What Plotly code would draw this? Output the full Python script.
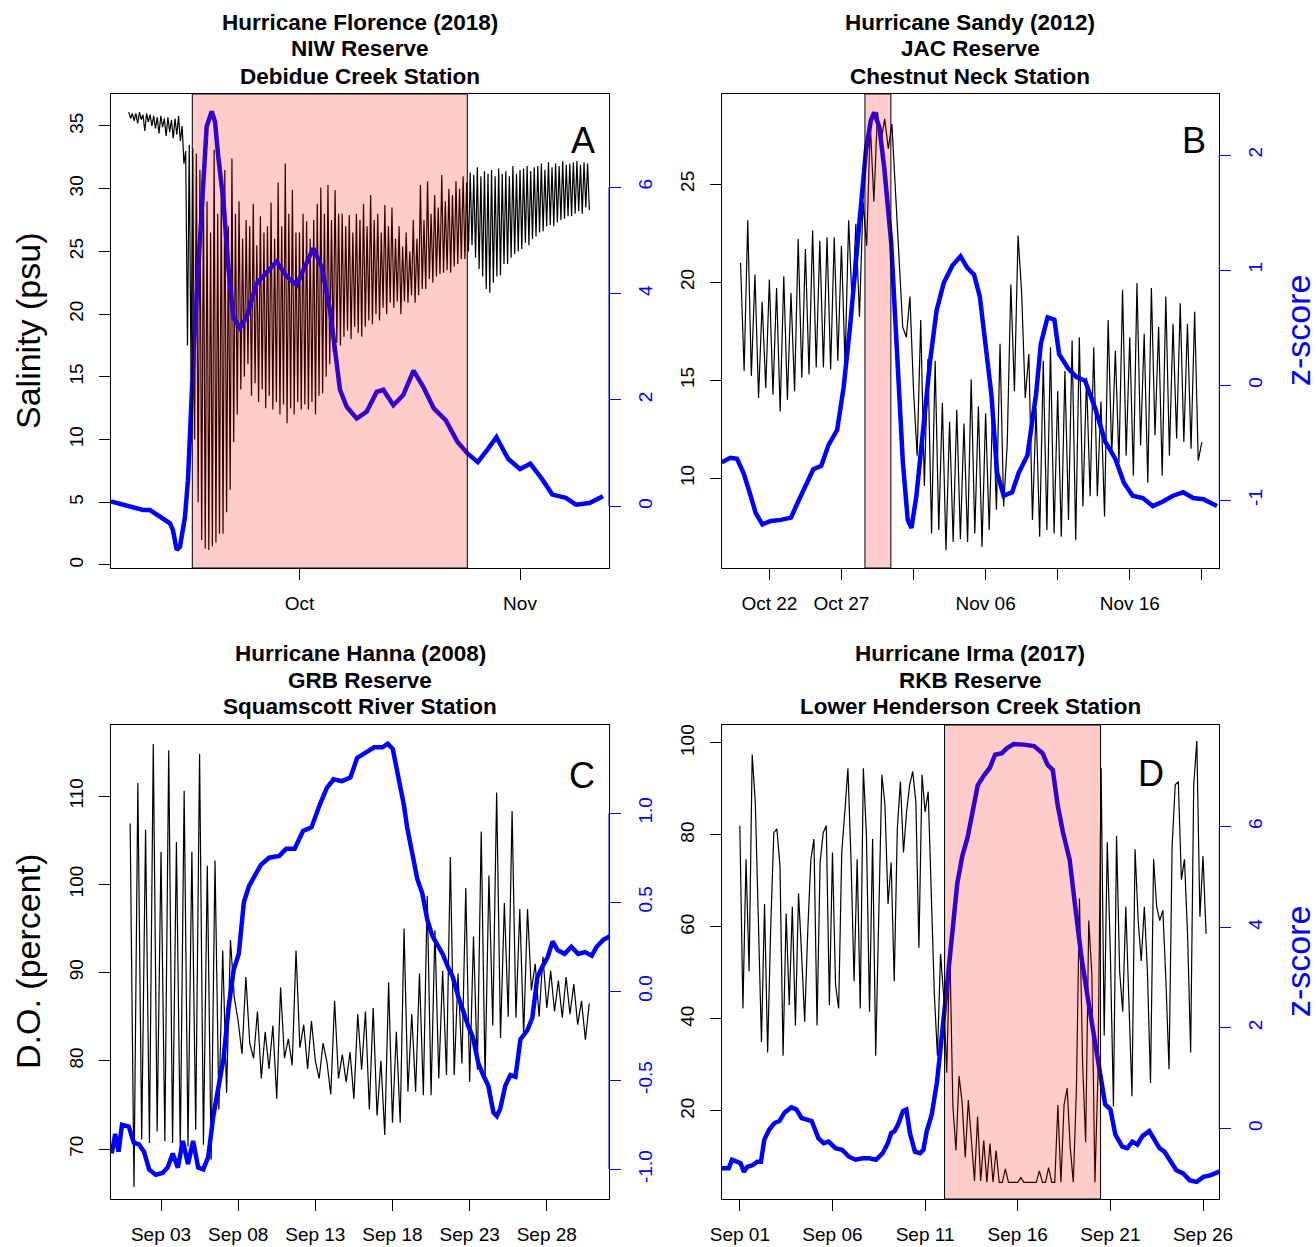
import pandas as pd
import plotly.graph_objects as go

# ============================ DATA ============================
# Day numbers (…_z_day, …_storm_day) count days from the panel's base date.

# --- Panel A: Hurricane Florence (2018), NIW Reserve, Debidue Creek Station ---
a_base = "2018-08-31"
a_sal_start = "2018-09-07 00:00"
a_sal_step = "6h"
a_sal = [
    36.1, 35.6, 36.0, 35.4, 36.0, 35.2, 36.1, 35.5, 35.9, 34.6, 36.0, 35.3,
    35.9, 35.0, 35.8, 34.8, 35.7, 34.4, 35.8, 34.9, 35.6, 34.2, 35.7, 34.5,
    35.5, 34.0, 35.6, 34.3, 35.8, 33.8, 35.0, 32.0, 33.0, 17.5, 33.5, 15.0,
    33.2, 10.0, 32.8, 5.0, 31.5, 2.0, 30.0, 1.3, 29.0, 1.2, 26.5, 1.5,
    33.1, 1.8, 28.0, 2.5, 30.0, 2.5, 31.5, 4.2, 27.0, 6.0, 32.4, 9.8,
    28.0, 12.0, 29.0, 14.0, 26.0, 15.0, 27.5, 16.0, 27.0, 13.5, 28.8, 14.5,
    25.5, 13.0, 27.8, 14.0, 26.5, 12.5, 27.0, 13.5, 28.9, 12.4, 26.0, 13.0,
    30.5, 12.0, 27.0, 12.8, 32.0, 11.3, 28.0, 12.5, 29.9, 12.0, 26.5, 13.0,
    26.5, 12.4, 28.0, 12.8, 27.4, 12.4, 26.0, 13.0, 27.5, 12.0, 28.8, 13.5,
    30.1, 13.7, 28.0, 15.0, 30.3, 16.0, 27.5, 17.0, 29.9, 17.7, 28.0, 17.5,
    28.0, 18.2, 27.0, 18.7, 27.9, 18.0, 26.5, 19.0, 28.0, 18.5, 27.5, 18.2,
    28.8, 19.0, 27.0, 19.5, 29.5, 19.2, 27.5, 20.0, 28.0, 19.5, 26.5, 20.5,
    28.7, 20.0, 27.0, 20.9, 28.5, 20.5, 26.0, 21.0, 27.0, 20.0, 25.4, 21.0,
    26.5, 20.9, 25.0, 21.5, 27.5, 20.9, 26.0, 21.5, 30.3, 22.0, 27.5, 22.0,
    30.6, 22.8, 28.0, 22.5, 29.5, 23.0, 28.5, 23.2, 31.1, 23.3, 29.0, 23.5,
    30.0, 23.3, 29.5, 23.8, 30.6, 24.0, 30.0, 24.4, 31.0, 24.4, 30.5, 25.0,
    31.3, 25.5, 31.1, 24.5, 31.7, 23.6, 31.0, 23.0, 31.4, 22.0, 31.2, 21.7,
    31.5, 22.5, 31.0, 23.0, 31.6, 23.1, 31.2, 24.0, 31.4, 24.0, 31.0, 24.5,
    31.8, 24.8, 31.2, 25.0, 31.5, 25.2, 31.6, 25.7, 31.8, 25.5, 31.4, 26.0,
    31.7, 26.2, 31.8, 26.5, 32.0, 26.6, 31.5, 27.0, 32.1, 27.1, 31.7, 27.0,
    32.0, 27.3, 31.8, 27.5, 32.2, 27.6, 31.9, 27.8, 32.0, 27.8, 32.1, 28.0,
    32.2, 28.2, 31.9, 28.0, 32.1, 28.5, 32.0, 28.3,
]
a_z_day = [4.50, 7.59, 9.00, 9.98, 11.39, 12.79, 13.21, 13.74, 14.20, 14.90,
           15.32, 15.84, 16.17, 17.01, 17.95, 18.66, 19.12, 19.58, 20.29, 20.99,
           21.69, 22.64, 23.58, 24.98, 26.39, 27.79, 29.20, 30.61, 31.53, 32.94,
           34.12, 35.29, 35.99, 36.69, 37.64, 39.04, 40.45, 41.85, 42.78, 44.19,
           45.59, 47.03, 48.46, 49.88, 51.55, 53.21, 54.65, 56.07, 57.50, 58.68,
           60.35, 62.01, 63.45, 65.10, 66.54, 68.44, 69.87, 71.77, 73.67]
a_z = [0.09, -0.01, -0.07, -0.07, -0.20, -0.32, -0.45, -0.82, -0.76, -0.20,
       0.49, 2.06, 3.07, 5.01, 7.14, 7.42, 7.23, 6.57, 5.76, 4.50,
       3.56, 3.35, 3.56, 4.19, 4.41, 4.60, 4.32, 4.16, 4.44, 4.85,
       4.50, 3.69, 2.94, 2.19, 1.87, 1.65, 1.78, 2.15, 2.19, 1.90,
       2.09, 2.55, 2.23, 1.84, 1.62, 1.21, 0.99, 0.83, 1.08, 1.30,
       0.89, 0.70, 0.80, 0.51, 0.22, 0.16, 0.03, 0.06, 0.19]
a_storm_day = [15.93, 54.59]
a_xtick_dates = ["2018-10-01", "2018-11-01"]
a_xtick_text = ["Oct", "Nov"]
a_ytick = [0, 5, 10, 15, 20, 25, 30, 35]
a_ztick = [0, 2, 4, 6]
a_ztick_text = ["0", "2", "4", "6"]

# --- Panel B: Hurricane Sandy (2012), JAC Reserve, Chestnut Neck Station ---
b_base = "2012-09-30"
b_sal_start = "2012-10-20 00:00"
b_sal_step = "6h"
b_sal = [
    21.0, 15.48, 23.16, 15.22, 20.4, 14.1, 19.0, 14.6, 20.14, 14.27, 19.71, 13.41,
    20.31, 14.01, 19.45, 14.44, 22.21, 15.13, 21.69, 15.30, 22.64, 15.65, 22.12, 15.65,
    22.29, 15.56, 22.29, 16.0, 21.86, 15.82, 23.16, 18.76, 22.98, 18.24, 24.11, 21.86,
    28.07, 24.11, 28.68, 27.21, 28.33, 26.8, 28.07, 24.45, 21.17, 17.72, 17.20, 19.27,
    14.5, 11.16, 18.07, 9.61, 16.08, 7.19, 16.0, 7.37, 13.84, 6.33, 12.89, 6.76,
    13.5, 6.9, 12.80, 6.76, 15.05, 7.19, 13.67, 6.50, 13.32, 7.37, 14.01, 8.40,
    16.86, 8.57, 11.77, 19.88, 14.44, 22.38, 19.45, 14.10, 16.34, 7.88, 13.58, 7.02,
    16.0, 7.37, 16.69, 7.19, 14.44, 7.02, 15.48, 7.88, 17.03, 6.85, 17.2, 8.57,
    15.13, 9.09, 16.69, 9.09, 13.92, 8.06, 18.07, 11.16, 16.51, 10.8, 19.62, 11.16,
    17.20, 10.13, 19.96, 11.68, 17.38, 9.78, 19.71, 12.20, 17.72, 10.13, 19.27, 11.16,
    17.89, 12.03, 18.93, 11.85, 17.89, 11.51, 18.50, 10.90, 11.85,
]
b_z_day = [18.70, 19.30, 19.76, 20.23, 20.70, 21.05, 21.52, 22.10, 22.80, 23.50,
           24.00, 24.45, 25.05, 25.60, 26.10, 26.70, 27.15, 27.60, 28.10, 28.70,
           29.04, 29.27, 29.63, 29.97, 30.45, 30.90, 31.26, 31.60, 31.86, 32.20,
           32.70, 33.15, 33.60, 34.10, 34.70, 35.26, 35.73, 36.20, 36.60, 36.96,
           37.40, 37.80, 38.25, 38.84, 39.30, 39.90, 40.50, 40.83, 41.30, 41.77,
           42.10, 42.70, 43.30, 43.90, 44.60, 45.30, 46.00, 46.60, 47.20, 47.90,
           48.60, 49.30, 50.00, 50.70, 51.40, 52.10, 53.05]
b_z = [-0.67, -0.63, -0.64, -0.77, -0.96, -1.11, -1.21, -1.18, -1.17, -1.15,
       -1.01, -0.89, -0.73, -0.70, -0.52, -0.39, -0.02, 0.51, 1.24, 2.04,
       2.30, 2.37, 2.24, 1.89, 1.24, 0.21, -0.67, -1.17, -1.24, -0.96,
       -0.35, 0.21, 0.65, 0.89, 1.04, 1.12, 1.02, 0.96, 0.77, 0.42,
       -0.08, -0.76, -0.96, -0.93, -0.76, -0.61, -0.08, 0.36, 0.59, 0.57,
       0.27, 0.15, 0.07, 0.04, -0.20, -0.49, -0.64, -0.85, -0.96, -0.98,
       -1.05, -1.01, -0.96, -0.93, -0.98, -0.99, -1.05]
b_storm_day = [28.63, 30.43]
b_xtick_dates = ["2012-10-22", "2012-10-27", "2012-11-01", "2012-11-06",
                 "2012-11-11", "2012-11-16", "2012-11-21"]
b_xtick_text = ["Oct 22", "Oct 27", "", "Nov 06", "", "Nov 16", ""]
b_ytick = [10, 15, 20, 25]
b_ztick = [-1, 0, 1, 2]
b_ztick_text = ["-1", "0", "1", "2"]

# --- Panel C: Hurricane Hanna (2008), GRB Reserve, Squamscott River Station ---
c_base = "2008-08-31"
c_sal_start = "2008-09-01 00:00"
c_sal_step = "6h"
c_sal = [
    106.9, 65.7, 111.5, 71.1, 106.2, 70.7, 115.9, 72.0, 103.7, 70.9, 115.2, 70.7,
    104.8, 69.9, 110.6, 70.3, 103.7, 72.2, 114.8, 70.5, 102.1, 68.8, 102.7, 74.5,
    92.5, 76.4, 93.7, 87.2,
    84.5, 80.8, 89.5, 82.0, 80.3, 85.6, 78.0, 83.3, 79.1, 84.0, 75.7, 88.3,
    80.3, 82.5, 79.5, 92.5, 81.5, 84.1, 79.1, 84.5, 80.0, 78.0, 82.0, 79.9,
    76.2, 86.8, 78.0, 80.7, 77.6, 81.0, 75.7, 85.3, 79.0, 85.6, 74.5, 86.0,
    73.8, 80.0, 71.6, 88.9, 73.0, 83.3, 73.0,
    95.0, 76.5, 85.3, 76.5, 89.9, 76.1, 98.7, 76.1, 94.8, 78.0, 90.2, 78.4,
    103.1, 78.4, 89.9, 79.7, 99.6, 77.6, 94.1, 79.0, 106.0, 78.0, 101.0, 84.0,
    110.4, 82.6, 97.9, 85.0, 108.3, 84.9, 97.2, 83.0, 97.2, 88.0, 91.0, 85.0,
    91.8, 86.0, 90.2, 85.6, 89.1, 84.9, 89.5, 85.3, 88.7, 84.1, 86.8, 82.4, 86.5,
]
c_z_day = [-0.19, 0.03, 0.25, 0.47, 0.91, 1.24, 1.57, 1.90, 2.23, 2.66,
           3.10, 3.43, 3.76, 4.09, 4.42, 4.75, 5.08, 5.41, 5.74, 6.06,
           6.39, 6.72, 7.05, 7.38, 7.71, 8.04, 8.37, 8.70, 9.03, 9.47,
           10.01, 10.67, 11.11, 11.66, 12.20, 12.75, 13.30, 13.74, 14.18, 14.72,
           15.27, 15.71, 16.26, 16.81, 17.36, 17.69, 18.02, 18.40, 18.73, 18.95,
           19.28, 19.61, 19.93, 20.26, 20.59, 20.92, 21.25, 21.58, 21.91, 22.23,
           22.56, 22.89, 23.22, 23.55, 23.88, 24.21, 24.54, 24.76, 24.98, 25.31,
           25.64, 25.97, 26.29, 26.73, 27.06, 27.39, 27.72, 28.05, 28.38, 28.71,
           29.15, 29.59, 30.03, 30.47, 30.91, 31.23, 31.67, 32.11]
c_z = [-0.91, -0.80, -0.90, -0.75, -0.76, -0.85, -0.86, -0.90, -1.00, -1.03,
       -1.02, -0.99, -0.91, -0.99, -0.84, -0.97, -0.84, -0.99, -1.00, -0.93,
       -0.70, -0.53, -0.38, -0.09, 0.12, 0.21, 0.50, 0.59, 0.64, 0.71,
       0.75, 0.76, 0.80, 0.80, 0.90, 0.92, 1.05, 1.14, 1.19, 1.18,
       1.20, 1.31, 1.34, 1.37, 1.37, 1.39, 1.36, 1.20, 1.05, 0.92,
       0.76, 0.63, 0.55, 0.40, 0.31, 0.26, 0.21, 0.14, 0.08, -0.02,
       -0.11, -0.19, -0.26, -0.40, -0.47, -0.53, -0.68, -0.70, -0.66, -0.53,
       -0.47, -0.48, -0.27, -0.22, -0.15, 0.08, 0.14, 0.19, 0.28, 0.23,
       0.21, 0.25, 0.21, 0.22, 0.20, 0.25, 0.29, 0.31]
c_storm_day = None
c_xtick_dates = ["2008-09-03", "2008-09-08", "2008-09-13", "2008-09-18",
                 "2008-09-23", "2008-09-28"]
c_xtick_text = ["Sep 03", "Sep 08", "Sep 13", "Sep 18", "Sep 23", "Sep 28"]
c_ytick = [70, 80, 90, 100, 110]
c_ztick = [-1.0, -0.5, 0.0, 0.5, 1.0]
c_ztick_text = ["-1.0", "-0.5", "0.0", "0.5", "1.0"]

# --- Panel D: Hurricane Irma (2017), RKB Reserve, Lower Henderson Creek Station ---
d_base = "2017-08-31"
d_sal_start = "2017-09-01 00:00"
d_sal_step = "4h"
d_sal = [
    82.0, 42.3, 74.7, 50.4, 97.5, 87.2, 61.4, 35.0, 65.0, 32.7, 60.0, 80.5,
    81.3, 73.2, 32.0, 62.9, 43.0, 64.4, 38.6, 67.3, 54.1, 39.4, 59.2, 74.7,
    79.1, 38.6, 74.0, 80.5, 82.0, 43.0, 76.2, 47.4, 42.3, 76.2, 85.0, 94.5,
    74.7, 48.2, 74.7, 42.3, 94.5, 79.8, 41.6, 79.1, 32.0, 60.0, 93.1, 86.5,
    65.0, 74.0, 48.2, 81.3, 91.6, 76.2, 85.0, 90.9, 93.8, 87.2, 55.5, 93.1,
    85.0, 89.4, 68.8, 45.2, 32.0, 54.1, 45.2, 28.3, 55.5, 21.0, 11.4, 27.6,
    21.7, 9.9, 22.4, 13.6, 4.8, 18.8, 4.8, 13.6, 4.5, 12.9, 4.5, 11.4,
    4.5, 4.5, 7.4, 4.5, 4.5, 4.5, 4.5, 5.5, 4.5, 4.5, 4.5, 4.5,
    4.5, 7.0, 4.5, 4.5, 7.7, 4.5, 4.5, 21.3, 4.5, 21.3, 25.0, 12.1,
    4.5, 24.6, 66.2, 30.5, 13.2, 61.4, 49.7, 4.5, 28.3, 94.5, 36.4, 78.4,
    54.1, 21.0, 79.8, 50.4, 41.6, 64.4, 43.0, 23.2, 76.9, 61.4, 52.6, 64.4,
    50.4, 26.1, 74.7, 64.4, 61.4, 63.6, 48.2, 29.1, 77.6, 90.9, 91.6, 70.3,
    74.7, 58.5, 32.7, 90.9, 100.4, 62.2, 75.4, 58.5,
]
d_z_day = [0.04, 0.40, 0.58, 0.86, 1.04, 1.22, 1.41, 1.68, 1.95, 2.14,
           2.32, 2.59, 2.87, 3.14, 3.42, 3.78, 4.05, 4.33, 4.60, 4.88,
           5.24, 5.52, 5.79, 6.16, 6.52, 6.89, 7.25, 7.62, 7.98, 8.35,
           8.71, 8.99, 9.17, 9.35, 9.54, 9.81, 9.99, 10.18, 10.45, 10.73,
           10.91, 11.09, 11.36, 11.64, 11.91, 12.19, 12.46, 12.74, 13.01, 13.29,
           13.56, 13.84, 14.20, 14.48, 14.78, 15.15, 15.42, 15.79, 16.33, 16.88,
           17.34, 17.61, 17.89, 18.16, 18.44, 18.80, 19.08, 19.44, 19.81, 20.17,
           20.45, 20.72, 21.00, 21.27, 21.64, 21.91, 22.19, 22.46, 22.73, 23.10,
           23.38, 23.65, 23.92, 24.20, 24.56, 24.93, 25.29, 25.66, 26.02, 26.39,
           26.75, 27.03]
d_z = [-0.79, -0.79, -0.62, -0.66, -0.69, -0.86, -0.76, -0.73, -0.66, -0.66,
       -0.22, -0.02, 0.11, 0.15, 0.32, 0.42, 0.38, 0.21, 0.18, 0.15,
       -0.19, -0.29, -0.26, -0.39, -0.42, -0.56, -0.62, -0.59, -0.59, -0.62,
       -0.49, -0.29, -0.09, -0.05, 0.08, 0.35, 0.38, -0.09, -0.46, -0.49,
       -0.42, -0.05, 0.28, 0.92, 1.86, 2.87, 3.87, 4.88, 5.42, 5.78,
       6.29, 6.82, 7.03, 7.16, 7.43, 7.46, 7.56, 7.64, 7.63, 7.60,
       7.46, 7.23, 7.13, 6.42, 5.89, 5.35, 4.48, 3.40, 2.53, 1.72,
       1.05, 0.48, 0.38, -0.12, -0.36, -0.39, -0.26, -0.32, -0.15, -0.05,
       -0.22, -0.39, -0.46, -0.62, -0.83, -0.89, -1.03, -1.06, -0.96, -0.93,
       -0.86, -0.83]
d_storm_day = [12.05, 20.47]
d_xtick_dates = ["2017-09-01", "2017-09-06", "2017-09-11", "2017-09-16",
                 "2017-09-21", "2017-09-26"]
d_xtick_text = ["Sep 01", "Sep 06", "Sep 11", "Sep 16", "Sep 21", "Sep 26"]
d_ytick = [20, 40, 60, 80, 100]
d_ztick = [0, 2, 4, 6]
d_ztick_text = ["0", "2", "4", "6"]

titles = [
    ["Hurricane Florence (2018)", "NIW Reserve", "Debidue Creek Station"],
    ["Hurricane Sandy (2012)", "JAC Reserve", "Chestnut Neck Station"],
    ["Hurricane Hanna (2008)", "GRB Reserve", "Squamscott River Station"],
    ["Hurricane Irma (2017)", "RKB Reserve", "Lower Henderson Creek Station"],
]
letters = ["A", "B", "C", "D"]

# ============================ LAYOUT ============================
W, H = 1316, 1247
FONT = "Liberation Sans, Arial, Helvetica, sans-serif"
BLUE = "#0000ff"
TICK_SIZE = 19


def day_dt(base, d):
    return pd.to_datetime(base) + pd.to_timedelta(d, unit="D")


panels = [
    dict(base=a_base, sal_start=a_sal_start, step=a_sal_step, sal=a_sal,
         z_day=a_z_day, z=a_z, storm=a_storm_day,
         xt=a_xtick_dates, xl=a_xtick_text, yt=a_ytick, zt=a_ztick, zl=a_ztick_text,
         box=(111, 609, 94, 568), xlim=(4.50, 74.51), ylim=(-0.24, 37.55),
         zlim=(-1.16, 7.75), letter_pos=(583, 140)),
    dict(base=b_base, sal_start=b_sal_start, step=b_sal_step, sal=b_sal,
         z_day=b_z_day, z=b_z, storm=b_storm_day,
         xt=b_xtick_dates, xl=b_xtick_text, yt=b_ytick, zt=b_ztick, zl=b_ztick_text,
         box=(721.5, 1219.3, 94, 568), xlim=(18.68, 53.21), ylim=(5.43, 29.6),
         zlim=(-1.588, 2.53), letter_pos=(1194, 140)),
    dict(base=c_base, sal_start=c_sal_start, step=c_sal_step, sal=c_sal,
         z_day=c_z_day, z=c_z, storm=c_storm_day,
         xt=c_xtick_dates, xl=c_xtick_text, yt=c_ytick, zt=c_ztick, zl=c_ztick_text,
         box=(111, 609, 725, 1199), xlim=(-0.24, 32.03), ylim=(64.35, 118.06),
         zlim=(-1.166, 1.495), letter_pos=(582, 775)),
    dict(base=d_base, sal_start=d_sal_start, step=d_sal_step, sal=d_sal,
         z_day=d_z_day, z=d_z, storm=d_storm_day,
         xt=d_xtick_dates, xl=d_xtick_text, yt=d_ytick, zt=d_ztick, zl=d_ztick_text,
         box=(721.5, 1219.3, 725, 1199), xlim=(0.01, 26.88), ylim=(0.87, 103.9),
         zlim=(-1.40, 8.02), letter_pos=(1151, 773)),
]

fig = go.Figure()
layout = dict(template="none", width=W, height=H, autosize=False,
              margin=dict(l=0, r=0, t=0, b=0, pad=0),
              paper_bgcolor="white", plot_bgcolor="rgba(0,0,0,0)", showlegend=False,
              font=dict(family=FONT, size=TICK_SIZE, color="black"))
shapes, annotations = [], []


def pxx(px):
    return px / W


def pxy(py):
    return 1 - py / H


for i, p in enumerate(panels):
    xi, yl, yr = i + 1, 2 * i + 1, 2 * i + 2
    xname = "xaxis" if xi == 1 else f"xaxis{xi}"
    xref = "x" if xi == 1 else f"x{xi}"
    ylname = "yaxis" if yl == 1 else f"yaxis{yl}"
    ylref = "y" if yl == 1 else f"y{yl}"
    yrname, yrref = f"yaxis{yr}", f"y{yr}"
    x0, x1, y0, y1 = p["box"]

    t_sal = pd.date_range(start=p["sal_start"], periods=len(p["sal"]), freq=p["step"])
    fig.add_trace(go.Scatter(x=t_sal, y=p["sal"], mode="lines",
                             line=dict(color="black", width=1.2),
                             xaxis=xref, yaxis=ylref, hoverinfo="skip"))
    t_z = day_dt(p["base"], p["z_day"])
    fig.add_trace(go.Scatter(x=t_z, y=p["z"], mode="lines",
                             line=dict(color=BLUE, width=4.5),
                             xaxis=xref, yaxis=yrref, hoverinfo="skip"))

    layout[xname] = dict(
        domain=[pxx(x0), pxx(x1)], anchor=ylref, type="date", automargin=False,
        range=[str(day_dt(p["base"], p["xlim"][0])), str(day_dt(p["base"], p["xlim"][1]))],
        tickmode="array", tickvals=p["xt"], ticktext=p["xl"],
        ticks="outside", ticklen=11, tickwidth=1, tickcolor="black",
        showline=True, linecolor="black", linewidth=1, mirror=True,
        showgrid=False, zeroline=False, tickfont=dict(size=TICK_SIZE, color="black"),
        ticklabelstandoff=7)
    layout[ylname] = dict(
        domain=[pxy(y1), pxy(y0)], anchor=xref, range=list(p["ylim"]), automargin=False,
        tickmode="array", tickvals=p["yt"], ticktext=[str(v) for v in p["yt"]],
        tickangle=-90, ticks="outside", ticklen=11, tickwidth=1, tickcolor="black",
        showline=True, linecolor="black", linewidth=1, mirror=True,
        showgrid=False, zeroline=False, tickfont=dict(size=TICK_SIZE, color="black"),
        ticklabelstandoff=8)
    layout[yrname] = dict(
        overlaying=ylref, side="right", anchor=xref, range=list(p["zlim"]),
        automargin=False,
        tickmode="array", tickvals=p["zt"], ticktext=p["zl"],
        tickangle=-90, ticks="outside", ticklen=11, tickwidth=1, tickcolor=BLUE,
        tickfont=dict(size=TICK_SIZE, color=BLUE), showline=False,
        showgrid=False, zeroline=False, ticklabelstandoff=8)

    # blue right-hand axis line over the tick range
    shapes.append(dict(type="line", xref=f"{xref} domain", yref=yrref,
                       x0=1, x1=1, y0=min(p["zt"]), y1=max(p["zt"]),
                       line=dict(color=BLUE, width=1), layer="above"))
    # storm window
    if p["storm"] is not None:
        shapes.append(dict(type="rect", xref=xref, yref=f"{ylref} domain",
                           x0=str(day_dt(p["base"], p["storm"][0])),
                           x1=str(day_dt(p["base"], p["storm"][1])),
                           y0=0, y1=1, fillcolor="rgba(255,0,0,0.2)",
                           line=dict(color="black", width=1), layer="above"))

    # title lines
    cx = (x0 + x1) / 2
    for k, line in enumerate(titles[i]):
        annotations.append(dict(
            x=pxx(cx), y=pxy(y0 - 72 + 27 * k), xref="paper", yref="paper",
            text=f"<b>{line}</b>", showarrow=False, xanchor="center", yanchor="middle",
            font=dict(family=FONT, size=22.5, color="black")))
    # panel letter
    lx, ly = p["letter_pos"]
    annotations.append(dict(x=pxx(lx), y=pxy(ly), xref="paper", yref="paper",
                            text=letters[i], showarrow=False, xanchor="center",
                            yanchor="middle", font=dict(family=FONT, size=36, color="black")))

# axis titles
annotations += [
    dict(x=pxx(28), y=pxy(331), xref="paper", yref="paper", text="Salinity (psu)",
         textangle=-90, showarrow=False, xanchor="center", yanchor="middle",
         font=dict(family=FONT, size=34, color="black")),
    dict(x=pxx(28), y=pxy(962), xref="paper", yref="paper", text="D.O. (percent)",
         textangle=-90, showarrow=False, xanchor="center", yanchor="middle",
         font=dict(family=FONT, size=34, color="black")),
    dict(x=pxx(1298), y=pxy(331), xref="paper", yref="paper", text="z-score",
         textangle=-90, showarrow=False, xanchor="center", yanchor="middle",
         font=dict(family=FONT, size=34, color=BLUE)),
    dict(x=pxx(1298), y=pxy(962), xref="paper", yref="paper", text="z-score",
         textangle=-90, showarrow=False, xanchor="center", yanchor="middle",
         font=dict(family=FONT, size=34, color=BLUE)),
]

layout["shapes"] = shapes
layout["annotations"] = annotations
fig.update_layout(**layout)

fig.write_html("out.html", config={"displayModeBar": False},
               post_script="document.body.style.margin='0';document.body.style.overflow='hidden';")
